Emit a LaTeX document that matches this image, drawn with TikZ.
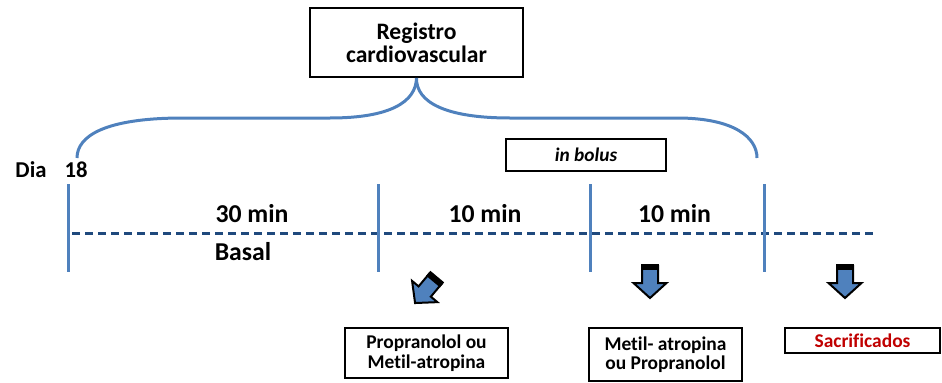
\documentclass[tikz,border=0pt]{standalone}
\usepackage{fontspec}
\setmainfont{Carlito}[Ligatures=NoCommon]
\usepackage{tikz}
\usetikzlibrary{positioning,calc}
\definecolor{LineBlue}{HTML}{4F81BD}
\definecolor{DashBlue}{HTML}{1F497D}
\definecolor{ArrowBlue}{HTML}{4F81BD}
\definecolor{DeadRed}{HTML}{C00000}

\tikzset{
	blockdown/.pic={
		\draw[fill=ArrowBlue, line width=1.5pt, line join=miter]
		(-8,-15) -- (8,-15) -- (8,2) -- (16.5,2) -- (0,17) -- (-16.5,2) -- (-8,2) -- cycle;
		\fill[black] (-9,-17.5) rectangle (9,-11);
	}
}

\begin{document}
\begin{tikzpicture}[x=0.75pt,y=-0.75pt]
			
			\useasboundingbox (0,0) rectangle (942,382);
			
			% ---------------------------------------------------------
			% REGISTRO
			% ---------------------------------------------------------
			
			\node[
			draw=black,
			line width=1.5pt,
			minimum width=159.75pt,
			minimum height=51.75pt,
			inner sep=0pt,
			align=center,
			font=\fontsize{17.7}{17.5}\selectfont\bfseries
			]
			(registro) at (416.5,42.5)
			{Registro\\cardiovascular};
			
			% ---------------------------------------------------------
			% DIA
			% ---------------------------------------------------------
			
			\node[font=\fontsize{17}{20}\selectfont\bfseries] (dia) at (31,170) {Dia};
			\node[font=\fontsize{17}{20}\selectfont\bfseries] (day) at (76,170) {18};
			
			\coordinate (bracel) at (77,158);
			\coordinate (bracer) at (757,158);
			
			% ---------------------------------------------------------
			% BRACE
			% ---------------------------------------------------------
			
			\draw[LineBlue,line width=2.25pt]
			(registro.south) .. controls (416,102) and (390,118) .. (330,118)
			-- (183,118) .. controls (105,118) and (77,136) .. (bracel);
			
			\draw[LineBlue,line width=2.25pt]
			(registro.south) .. controls (416,102) and (445,118) .. (510,118)
			-- (677,118) .. controls (735,118) and (757,138) .. (bracer);
			
			% ---------------------------------------------------------
			% IN BOLUS
			% ---------------------------------------------------------
			
			\node[
			draw=black,
			line width=1.5pt,
			minimum width=120pt,
			minimum height=24pt,
			inner sep=0pt,
			font=\fontsize{14.5}{16}\selectfont\bfseries\itshape
			]
			(bolus) at (586,155)
			{in bolus};
			
			% ---------------------------------------------------------
			% TIMELINE
			% ---------------------------------------------------------
			
			\coordinate (t0) at (68,184);
			\coordinate (t1) at (378,184);
			\coordinate (t2) at (590,184);
			\coordinate (t3) at (764,184);
			
			\coordinate (start) at (72,233);
			\coordinate (end) at (876,233);
			
			\draw[DashBlue,line width=2.25pt,dash pattern=on 6pt off 3.75pt]
			(start) -- (end);
			
			\draw[LineBlue,line width=2.25pt] (t0) -- ++(0,88);
			\draw[LineBlue,line width=2.25pt] (t1) -- ++(0,88);
			\draw[LineBlue,line width=2.25pt] (t2) -- ++(0,88);
			\draw[LineBlue,line width=2.25pt] (t3) -- ++(0,88);
			
			\node[font=\fontsize{19.3}{22}\selectfont\bfseries] (basal30) at (252,214) {30 min};
			\node[font=\fontsize{19.3}{22}\selectfont\bfseries] (basal) at (243,252) {Basal};
			\node[font=\fontsize{19.3}{22}\selectfont\bfseries] (first10) at (485,214) {10 min};
			\node[font=\fontsize{19.3}{22}\selectfont\bfseries] (second10) at (674.5,214) {10 min};
			
			% ---------------------------------------------------------
			% ARROWS
			% ---------------------------------------------------------
			
			\pic[rotate=-40] (arrowa) at (426,290) {blockdown};
			\pic (arrowb) at (650,281) {blockdown};
			\pic (arrowc) at (845,281) {blockdown};
			
			% ---------------------------------------------------------
			% DRUGS
			% ---------------------------------------------------------
			
			\node[
			draw=black,
			line width=1.5pt,
			minimum width=122.25pt,
			minimum height=37.5pt,
			inner sep=0pt,
			align=center,
			font=\fontsize{14.6}{15}\selectfont\bfseries
			]
			(druga) at (426.5,353)
			{Propranolol ou\\Metil-atropina};
			
			\node[
			draw=black,
			line width=1.5pt,
			minimum width=114.75pt,
			minimum height=39.75pt,
			inner sep=0pt,
			align=center,
			font=\fontsize{14.6}{14}\selectfont\bfseries
			]
			(drugb) at (665.5,354.5)
			{Metil- atropina\\ou Propranolol};
			
			\node[
			draw=black,
			line width=1.5pt,
			minimum width=116.25pt,
			minimum height=18.75pt,
			inner sep=0pt,
			text=DeadRed,
			font=\fontsize{14.6}{16}\selectfont\bfseries
			]
			(sacrificados) at (862.5,340.5)
			{Sacrificados};
			
		\end{tikzpicture}
\end{document}
